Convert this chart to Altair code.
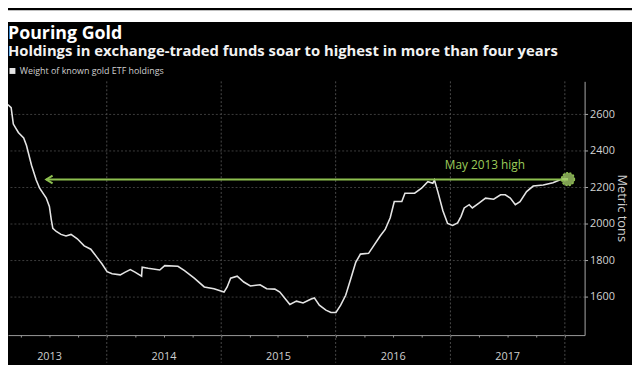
import altair as alt
import pandas as pd

# ---- data ----
dates = [
    "2013-01-26", "2013-02-21", "2013-03-02", "2013-03-09", "2013-03-25", "2013-04-11",
    "2013-04-20", "2013-05-06", "2013-05-21", "2013-06-01", "2013-06-22", "2013-07-02",
    "2013-07-08", "2013-07-13", "2013-07-24", "2013-08-08", "2013-08-24", "2013-09-09",
    "2013-09-29", "2013-10-21", "2013-11-11", "2013-12-01", "2013-12-17",
    "2014-01-02", "2014-01-18", "2014-02-13", "2014-03-01", "2014-03-17", "2014-04-01",
    "2014-04-22", "2014-04-24", "2014-05-13", "2014-06-19", "2014-07-05", "2014-08-16",
    "2014-09-06", "2014-10-07", "2014-11-08", "2014-12-09",
    "2015-01-10", "2015-01-20", "2015-01-31", "2015-02-21", "2015-03-14", "2015-04-04",
    "2015-05-05", "2015-05-26", "2015-06-21", "2015-07-07", "2015-07-28", "2015-08-08",
    "2015-08-29", "2015-09-19", "2015-10-15", "2015-10-25", "2015-11-10", "2015-12-01",
    "2015-12-17",
    "2016-01-02", "2016-01-17", "2016-02-02", "2016-02-18", "2016-03-05", "2016-03-20",
    "2016-04-15", "2016-05-01", "2016-05-22", "2016-06-07", "2016-06-23", "2016-07-06",
    "2016-07-30", "2016-08-09", "2016-09-09", "2016-10-01", "2016-10-21", "2016-11-06",
    "2016-11-11", "2016-11-22", "2016-12-08", "2016-12-23",
    "2017-01-08", "2017-01-24", "2017-02-04", "2017-02-14", "2017-03-02", "2017-03-12",
    "2017-04-02", "2017-04-23", "2017-05-19", "2017-06-10", "2017-06-25", "2017-07-11",
    "2017-07-27", "2017-08-11", "2017-09-01", "2017-09-22", "2017-10-24", "2017-11-24",
    "2017-12-21", "2018-01-11",
]
tons = [
    2654, 2650, 2636, 2546, 2500, 2470,
    2428, 2320, 2239, 2194, 2140, 2094,
    2022, 1974, 1957, 1941, 1932, 1941,
    1917, 1878, 1860, 1815, 1779,
    1737, 1725, 1719, 1734, 1748, 1734,
    1712, 1761, 1755, 1746, 1770, 1766,
    1742, 1701, 1653, 1643,
    1625, 1653, 1701, 1712, 1680, 1658,
    1665, 1643, 1641, 1625, 1580, 1557,
    1575, 1565, 1587, 1593, 1553, 1526,
    1513,
    1513, 1553, 1607, 1697, 1788, 1833,
    1837, 1878, 1932, 1968, 2032, 2121,
    2121, 2167, 2167, 2194, 2230, 2221,
    2239, 2174, 2071, 2001,
    1990, 2004, 2040, 2086, 2104, 2086,
    2113, 2140, 2134, 2158, 2158, 2140,
    2104, 2121, 2176, 2206, 2212, 2224,
    2243, 2244,
]
series_name = "Weight of known gold ETF holdings"

year_starts = ["2014-01-01", "2015-01-01", "2016-01-01", "2017-01-01", "2018-01-01"]
quarter_ticks = [(y, m) for y in range(2013, 2019) for m in (1, 4, 7, 10)
                 if (2013, 4) <= (y, m) <= (2018, 1)]
y_ticks = [1600, 1800, 2000, 2200, 2400, 2600]

high_start = "2013-06-22"
high_end = "2018-01-11"
high_value = 2242
label_date = "2017-04-21"
label_value = 2300
label_text = "May 2013 high"

GREEN = "#8dbf4f"
FONT = "Open Sans"

df = pd.DataFrame({"date": dates, "tons": tons, "series": series_name})
rules_df = pd.DataFrame({"date": year_starts})
high_df = pd.DataFrame({"date": [high_start], "date2": [high_end], "tons": [high_value]})
arrow_df = pd.DataFrame({"date": [high_start], "tons": [high_value]})
dot_df = pd.DataFrame({"date": [dates[-1]], "tons": [tons[-1]]})
label_df = pd.DataFrame({"date": [label_date], "tons": [label_value], "t": [label_text]})
strip_df = pd.DataFrame({"k": [0]})

x_scale = alt.Scale(domain=[alt.DateTime(year=2013, month=2, date=20, utc=True),
                            alt.DateTime(year=2018, month=3, date=5, utc=True)])
y_scale = alt.Scale(domain=[1389, 2780], nice=False, zero=False)

x_axis = alt.Axis(
    values=[alt.DateTime(year=y, month=m, date=1, utc=True) for y, m in quarter_ticks],
    labelExpr="utcmonth(datum.value) == 6 ? utcFormat(datum.value, '%Y') : ''",
    grid=False, tickSize=2, tickColor="#9a9a9a", domainColor="#9a9a9a",
    labelColor="#cfcfcf", labelFontSize=11, labelFont=FONT, labelPadding=14,
    labelFlush=False, labelOverlap=False, title=None,
)
y_axis = alt.Axis(
    orient="right", values=y_ticks, format="d", grid=True, gridColor="#3d3d3d", gridDash=[2, 2],
    tickSize=3, tickColor="#aaaaaa", domainColor="#aaaaaa",
    labelColor="#d4d4d4", labelFontSize=11, labelFont=FONT, labelPadding=2,
    title="Metric tons", titleAngle=90, titleX=37, titleY=128, titleAlign="center",
    titleBaseline="middle", titleColor="#cfcfcf", titleFontSize=13,
    titleFontWeight="normal", titleFont=FONT,
)

X = alt.X("date:T", scale=x_scale, axis=x_axis)
Y = alt.Y("tons:Q", scale=y_scale, axis=y_axis)

strip = alt.Chart(strip_df).mark_rect(color="white").encode(
    x=alt.value(0), x2=alt.value(640), y=alt.value(-72), y2=alt.value(-60)
)

year_rules = alt.Chart(rules_df).mark_rule(color="#4a4a4a", strokeDash=[2, 2], strokeWidth=1).encode(
    x=X, y=alt.value(0), y2=alt.value(285)
)

line = alt.Chart(df).mark_line(strokeWidth=1.6, clip=True).encode(
    x=X, y=Y,
    color=alt.Color("series:N", scale=alt.Scale(range=["#e4e4e4"]),
                    legend=alt.Legend(
                        title=None, orient="none", legendX=0, legendY=-15,
                        symbolType="square", symbolSize=9, symbolStrokeWidth=3,
                        symbolFillColor="#ffffff", labelColor="#cfcfcf",
                        labelFontSize=9, labelFont=FONT, labelOffset=3, padding=0,
                    )),
)

high_rule = alt.Chart(high_df).mark_rule(color=GREEN, strokeWidth=2).encode(
    x=X, x2="date2:T", y=Y
)

arrow = alt.Chart(arrow_df).mark_point(
    shape="M 1.6 -1 L 0 0 L 1.6 1", size=64, filled=False, color=GREEN, strokeWidth=2, opacity=1
).encode(x=X, y=Y)

dot = alt.Chart(dot_df).mark_point(
    shape="circle", size=170, filled=True, fill="#a9d46e", fillOpacity=0.75,
    stroke=GREEN, strokeWidth=1.5, strokeDash=[2, 1.5], opacity=1
).encode(x=X, y=Y)

label = alt.Chart(label_df).mark_text(
    color="#9ccc5a", fontSize=12, font=FONT, align="center", baseline="alphabetic"
).encode(x=X, y=Y, text="t:N")

chart = alt.layer(strip, year_rules, line, high_rule, arrow, dot, label).properties(
    width=584, height=257,
    autosize=alt.AutoSizeParams(type="none"),
    padding={"left": 0, "top": 72, "right": 48, "bottom": 28},
    background="#000000",
    title=alt.Title(
        "Pouring Gold",
        subtitle="Holdings in exchange-traded funds soar to highest in more than four years",
        anchor="start", frame="group", offset=-49,
        font=FONT, fontSize=18, fontWeight="bold", color="#ffffff",
        subtitleFont=FONT, subtitleFontSize=15, subtitleFontWeight="bold",
        subtitleColor="#f2f2f2", subtitlePadding=1,
    ),
).configure_view(stroke=None)

chart.save("out.html", embed_options={"renderer": "svg", "actions": False})
